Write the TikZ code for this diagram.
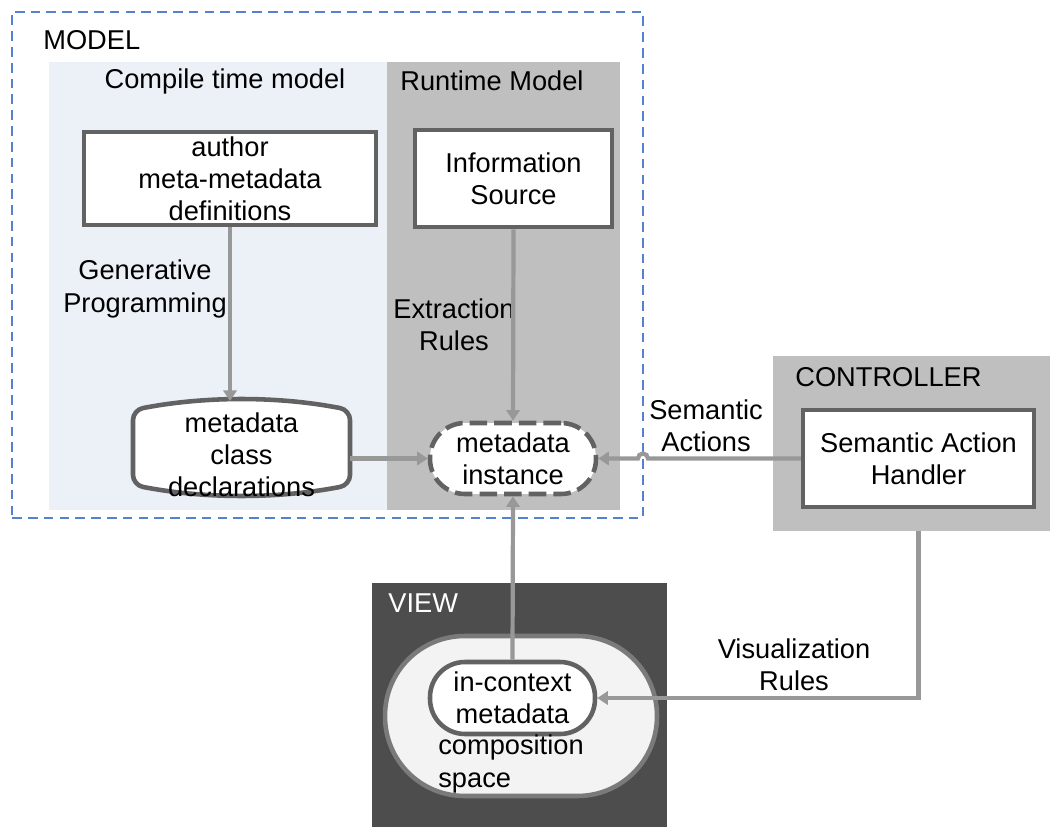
\documentclass[tikz,border=0pt]{standalone}
\usepackage{fontspec}
\setmainfont{Liberation Sans}
\usepackage{tikz}
\usetikzlibrary{arrows.meta}
\definecolor{modelblue}{RGB}{84,130,206}
\definecolor{ctfill}{RGB}{236,240,247}
\definecolor{rtfill}{RGB}{191,191,191}
\definecolor{viewfill}{RGB}{77,77,77}
\definecolor{spacefill}{RGB}{243,243,243}
\definecolor{boxline}{RGB}{98,98,98}
\definecolor{flowgray}{RGB}{152,152,152}
\newcommand{\mvcfont}{\fontsize{15.5}{18.3}\selectfont}
\tikzstyle{mvc_area} = [rectangle, draw = none, inner sep = 0, outer sep = 0]
\tikzstyle{mvc_box} = [rectangle, draw = boxline, line width = 2.6pt, fill = white, align = center, inner sep = 0]
\tikzstyle{mvc_pill} = [rectangle, draw = boxline, line width = 2.6pt, fill = white, align = center, inner sep = 0, rounded corners = 0.7cm]
\tikzstyle{mvc_label} = [align = center, inner sep = 0]
\tikzstyle{mvc_flow} = [draw = flowgray, line width = 2.4pt, -{Triangle[length = 6pt, width = 7.5pt]}]

\begin{document}
\begin{tikzpicture}[x = 0.02cm, y = -0.02cm, font = \mvcfont]
        \useasboundingbox (0,0) rectangle (1050,827);
        \begin{scope} [style = {mvc_area}]
            \node [mvc_area, minimum width = 6.76cm, minimum height = 8.96cm, fill = ctfill] (ctarea) at (218,286) {};
            \node [mvc_area, minimum width = 4.66cm, minimum height = 8.96cm, fill = rtfill] (rtarea) at (503.5,286) {};
            \node [mvc_area, minimum width = 12.62cm, minimum height = 10.12cm, draw = modelblue, line width = 0.9pt, dash pattern = on 5.5pt off 3.5pt] (modelbox) at (327.5,265) {};
            \node [mvc_area, minimum width = 5.54cm, minimum height = 3.5cm, fill = rtfill] (ctrlbox) at (911.5,443.5) {};
            \node [mvc_area, minimum width = 5.9cm, minimum height = 4.88cm, fill = viewfill] (viewbox) at (519.5,705) {};
        \end{scope}
        \node [mvc_label, anchor = west] (modeltitle) at (43,40) {MODEL};
        \node [mvc_label] (cttitle) at (225,81) {Compile time model};
        \node [mvc_label] (rttitle) at (492,81) {Runtime Model};
        \node [mvc_label, anchor = west] (ctrltitle) at (795,377) {CONTROLLER};
        \node [mvc_label, anchor = west, text = white] (viewtitle) at (388,603) {VIEW};
        \node [style = {mvc_box}, minimum width = 5.84cm, minimum height = 1.86cm] (author) at (230,178.5) {author\\meta-metadata\\definitions};
        \node [style = {mvc_box}, minimum width = 3.94cm, minimum height = 1.94cm] (infosrc) at (513.5,178.5) {Information\\Source};
        \node [style = {mvc_box}, minimum width = 4.62cm, minimum height = 1.94cm] (handler) at (918.5,458.5) {Semantic Action\\Handler};
        \draw [draw = boxline, line width = 2.6pt, fill = white, rounded corners = 0.2cm] (133,410) .. controls (205,396) and (278,396) .. (350,410) -- (350,485) .. controls (278,499) and (205,499) .. (133,485) -- cycle;
        \coordinate (decltop) at (241.5,401);
        \node [mvc_label, minimum width = 4.34cm] (decl) at (241.5,455) {metadata\\class\\declarations};
        \node [style = {mvc_pill}, dash pattern = on 10pt off 4pt, minimum width = 3.32cm, minimum height = 1.42cm] (instance) at (513,458.5) {metadata\\instance};
        \node [style = {mvc_pill}, draw = boxline!85, fill = spacefill, rounded corners = 1.59cm, minimum width = 5.44cm, minimum height = 3.2cm] (compspace) at (521,716) {};
        \node [style = {mvc_pill}, minimum width = 3.3cm, minimum height = 1.44cm] (incontext) at (512.5,698) {in-context\\metadata};
        \node [mvc_label, anchor = west, align = left] (spacetext) at (438,764) {composition\\space};
        \node [mvc_label] (genprog) at (145,289) {Generative\\Programming};
        \node [mvc_label] (extract) at (454,325) {Extraction\\Rules};
        \node [mvc_label] (semact) at (706,426) {Semantic\\Actions};
        \node [mvc_label] (visrules) at (794,665) {Visualization\\Rules};
        \draw [style = {mvc_flow}] (author.south) -- (author.south |- decltop);
        \draw [style = {mvc_flow}] (infosrc.south) -- (instance.north);
        \draw [style = {mvc_flow}] (decl.east |- instance.west) -- (instance.west);
        \draw [style = {mvc_flow}] (handler.west) -- ([xshift = 0.1cm]modelbox.east |- handler.west) arc (0:180:0.1cm) -- (instance.east);
        \draw [style = {mvc_flow}] (incontext.north) -- (instance.south);
        \draw [style = {mvc_flow}] (handler.south |- ctrlbox.south) -- (handler.south |- incontext.east) -- (incontext.east);
    \end{tikzpicture}
\end{document}
